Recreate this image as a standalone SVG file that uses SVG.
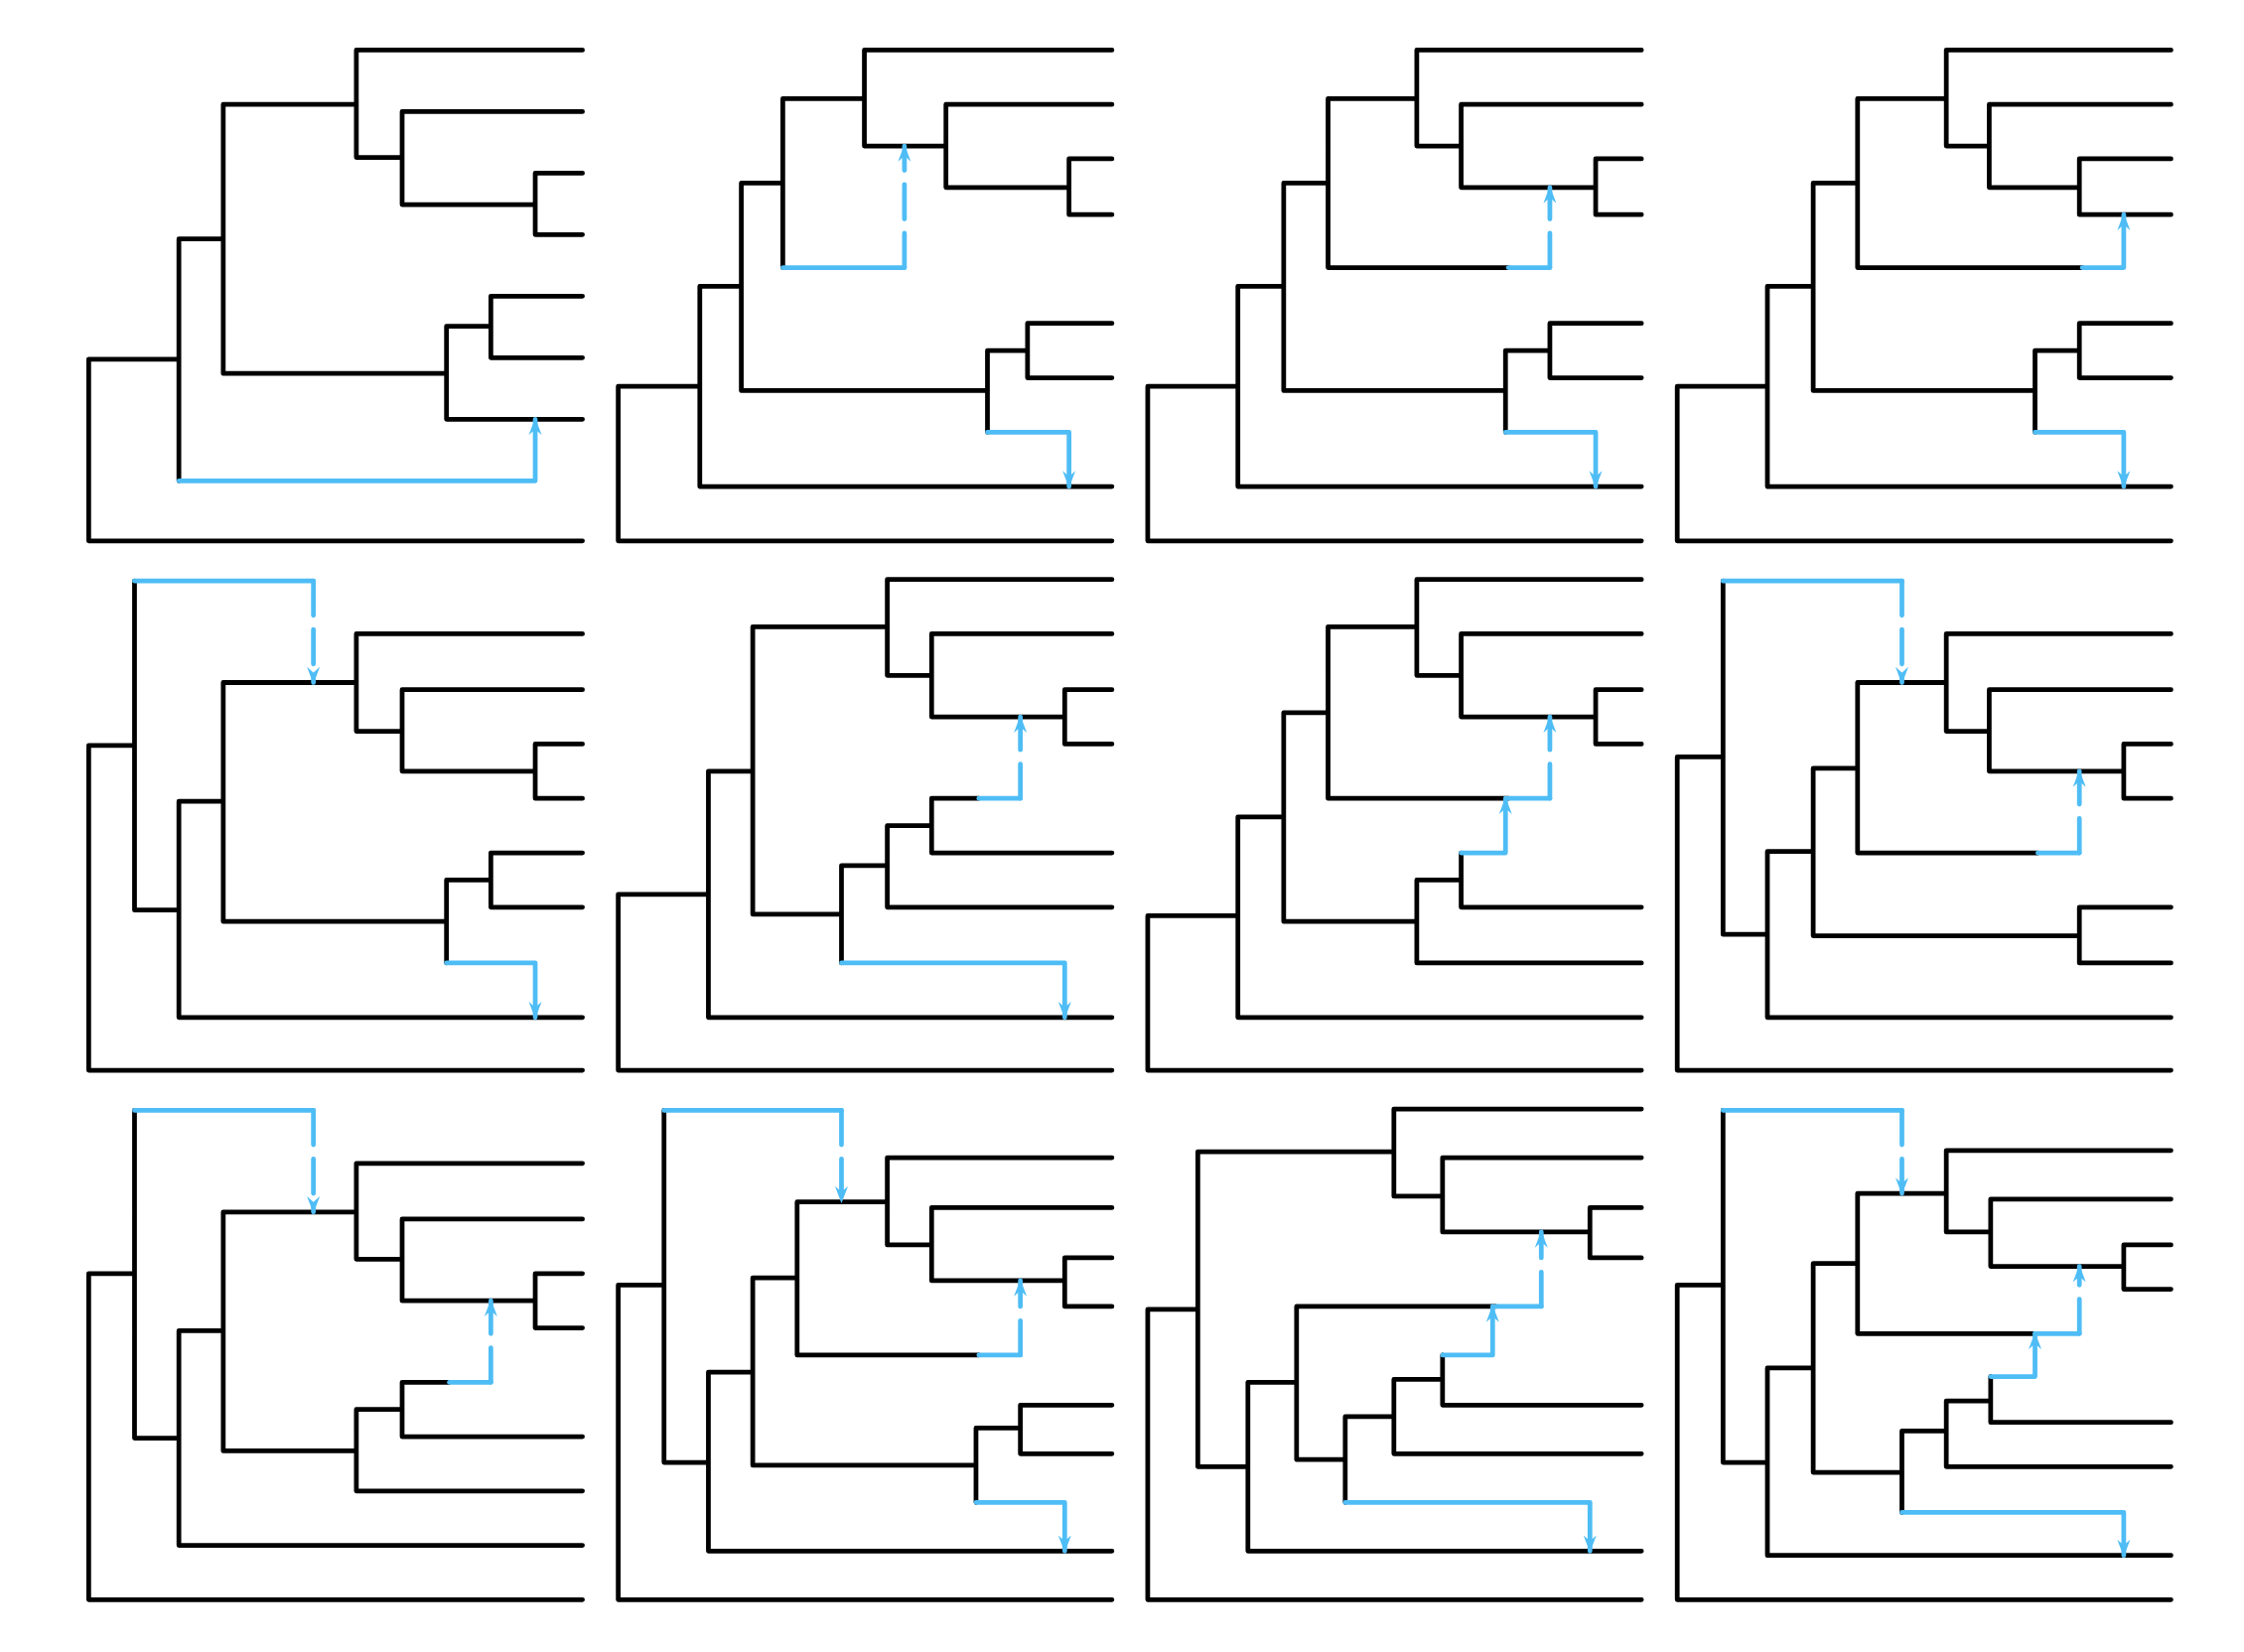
<svg xmlns="http://www.w3.org/2000/svg" width="2260" height="1664" viewBox="0 0 2260 1664">
<style>
.t{fill:none;stroke:#000;stroke-width:3.3;stroke-linecap:round;stroke-linejoin:round}
.b{fill:none;stroke:#4FBDF5;stroke-width:3.3;stroke-linecap:round;stroke-linejoin:round}
.a{marker-end:url(#ah)}
.d{stroke-dasharray:24 10}
</style>
<defs>
<marker id="ah" markerUnits="userSpaceOnUse" viewBox="0 0 12 10" refX="11" refY="5" markerWidth="12" markerHeight="10" orient="auto">
<path d="M0,0.5 L12,5 L0,9.5 L4,5 z" fill="#4FBDF5"/>
</marker>
</defs>
<rect width="2260" height="1664" fill="#fff"/>
<g transform="scale(1.4413)">
<g id="tree1"><path class="t" d="M62 251V378M62 251H125M62 378H407M125 167V336M125 167H156M156 73V261M156 73H249M156 261H312M249 35V110M249 35H407M249 110H281M281 78V143M281 78H407M281 143H374M374 121V164M374 121H407M374 164H407M312 228V293M312 228H343M312 293H407M343 207V250M343 207H407M343 250H407"/></g>
<g id="tree2"><path class="t" d="M432 270V378M432 270H489M432 378H777M489 200V340M489 200H518M489 340H777M518 128V273M518 128H547M518 273H690M547 69V187M547 69H604M604 35V102M604 35H777M604 102H661M661 73V131M661 73H777M661 131H747M747 111V150M747 111H777M747 150H777M690 245V302M690 245H718M718 226V264M718 226H777M718 264H777"/></g>
<g id="tree3"><path class="t" d="M802 270V378M802 270H865M802 378H1147M865 200V340M865 200H897M865 340H1147M897 128V273M897 128H928M897 273H1052M928 69V187M928 69H990M928 187H1054M990 35V102M990 35H1147M990 102H1021M1021 73V131M1021 73H1147M1021 131H1115M1115 111V150M1115 111H1147M1115 150H1147M1052 245V302M1052 245H1083M1083 226V264M1083 226H1147M1083 264H1147"/></g>
<g id="tree4"><path class="t" d="M1172 270V378M1172 270H1235M1172 378H1517M1235 200V340M1235 200H1267M1235 340H1517M1267 128V273M1267 128H1298M1267 273H1422M1298 69V187M1298 69H1360M1298 187H1455M1360 35V102M1360 35H1517M1360 102H1390M1390 73V131M1390 73H1517M1390 131H1453M1453 111V150M1453 111H1517M1453 150H1517M1422 245V302M1422 245H1453M1453 226V264M1453 226H1517M1453 264H1517"/></g>
<g id="tree5"><path class="t" d="M62 521V748M62 521H94M62 748H407M94 406V636M94 636H125M125 560V711M125 560H156M125 711H407M156 477V644M156 477H249M156 644H312M249 443V511M249 443H407M249 511H281M281 482V539M281 482H407M281 539H374M374 520V558M374 520H407M374 558H407M312 615V673M312 615H343M343 596V634M343 596H407M343 634H407"/></g>
<g id="tree6"><path class="t" d="M432 625V748M432 625H495M432 748H777M495 539V711M495 539H526M495 711H777M526 438V639M526 438H620M526 639H588M620 405V472M620 405H777M620 472H651M651 443V501M651 443H777M651 501H744M744 482V520M744 482H777M744 520H777M588 605V673M588 605H620M620 577V634M620 577H651M620 634H777M651 558V596M651 558H684M651 596H777"/></g>
<g id="tree7"><path class="t" d="M802 640V748M802 640H865M802 748H1147M865 571V711M865 571H897M865 711H1147M897 498V644M897 498H928M897 644H990M928 438V558M928 438H990M928 558H1054M990 405V472M990 405H1147M990 472H1021M1021 443V501M1021 443H1147M1021 501H1115M1115 482V520M1115 482H1147M1115 520H1147M990 615V673M990 615H1021M990 673H1147M1021 596V634M1021 634H1147"/></g>
<g id="tree8"><path class="t" d="M1172 529V748M1172 529H1204M1172 748H1517M1204 406V653M1204 653H1235M1235 595V711M1235 595H1267M1235 711H1517M1267 537V654M1267 537H1298M1267 654H1453M1298 477V596M1298 477H1360M1298 596H1424M1360 443V511M1360 443H1517M1360 511H1390M1390 482V539M1390 482H1517M1390 539H1484M1484 520V558M1484 520H1517M1484 558H1517M1453 634V673M1453 634H1517M1453 673H1517"/></g>
<g id="tree9"><path class="t" d="M62 890V1118M62 890H94M62 1118H407M94 776V1005M94 1005H125M125 930V1080M125 930H156M125 1080H407M156 847V1014M156 847H249M156 1014H249M249 813V880M249 813H407M249 880H281M281 852V909M281 852H407M281 909H374M374 890V928M374 890H407M374 928H407M249 985V1042M249 985H281M249 1042H407M281 966V1004M281 966H314M281 1004H407"/></g>
<g id="tree10"><path class="t" d="M432 898V1118M432 898H464M432 1118H777M464 776V1022M464 1022H495M495 959V1084M495 959H526M495 1084H777M526 893V1024M526 893H557M526 1024H682M557 840V947M557 840H620M557 947H684M620 809V870M620 809H777M620 870H651M651 844V895M651 844H777M651 895H744M744 879V913M744 879H777M744 913H777M682 998V1050M682 998H713M713 982V1016M713 982H777M713 1016H777"/></g>
<g id="tree11"><path class="t" d="M802 915V1118M802 915H837M802 1118H1147M837 805V1025M837 805H974M837 1025H872M974 775V836M974 775H1147M974 836H1008M1008 809V861M1008 809H1147M1008 861H1111M1111 844V879M1111 844H1147M1111 879H1147M872 966V1084M872 966H906M872 1084H1147M906 913V1020M906 913H1045M906 1020H940M940 990V1050M940 990H974M974 964V1016M974 964H1008M974 1016H1147M1008 947V982M1008 982H1147"/></g>
<g id="tree12"><path class="t" d="M1172 898V1118M1172 898H1204M1172 1118H1517M1204 776V1022M1204 1022H1235M1235 956V1087M1235 956H1267M1235 1087H1517M1267 883V1029M1267 883H1298M1267 1029H1329M1298 834V932M1298 834H1360M1298 932H1422M1360 804V861M1360 804H1517M1360 861H1391M1391 838V885M1391 838H1517M1391 885H1484M1484 870V901M1484 870H1517M1484 901H1517M1329 1000V1057M1329 1000H1360M1360 979V1025M1360 979H1391M1360 1025H1517M1391 962V994M1391 994H1517"/></g>
<g id="connectors">
<path class="b a" d="M125 336H374V293"/>
<path class="b" d="M547 187H632"/>
<path class="b d a" d="M632 187V102"/>
<path class="b a" d="M690 302H747V340"/>
<path class="b" d="M1054 187H1083"/>
<path class="b d a" d="M1083 187V131"/>
<path class="b a" d="M1052 302H1115V340"/>
<path class="b a" d="M1455 187H1484V150"/>
<path class="b a" d="M1422 302H1484V340"/>
<path class="b" d="M94 406H219"/>
<path class="b d a" d="M219 406V477"/>
<path class="b a" d="M312 673H374V711"/>
<path class="b a" d="M588 673H744V711"/>
<path class="b" d="M684 558H713"/>
<path class="b d a" d="M713 558V501"/>
<path class="b" d="M1054 558H1083"/>
<path class="b d a" d="M1083 558V501"/>
<path class="b a" d="M1021 596H1052V558"/>
<path class="b" d="M1204 406H1329"/>
<path class="b d a" d="M1329 406V477"/>
<path class="b" d="M1424 596H1453"/>
<path class="b d a" d="M1453 596V539"/>
<path class="b" d="M94 776H219"/>
<path class="b d a" d="M219 776V847"/>
<path class="b" d="M314 966H343"/>
<path class="b d a" d="M343 966V909"/>
<path class="b" d="M464 776H588"/>
<path class="b d a" d="M588 776V840"/>
<path class="b" d="M684 947H713"/>
<path class="b d a" d="M713 947V895"/>
<path class="b a" d="M682 1050H744V1084"/>
<path class="b" d="M1045 913H1077"/>
<path class="b d a" d="M1077 913V861"/>
<path class="b a" d="M1008 947H1043V913"/>
<path class="b a" d="M940 1050H1111V1084"/>
<path class="b" d="M1204 776H1329"/>
<path class="b d a" d="M1329 776V834"/>
<path class="b" d="M1422 932H1453"/>
<path class="b d a" d="M1453 932V885"/>
<path class="b a" d="M1391 962H1422V932"/>
<path class="b a" d="M1329 1057H1484V1087"/>
</g>
</g>
</svg>
